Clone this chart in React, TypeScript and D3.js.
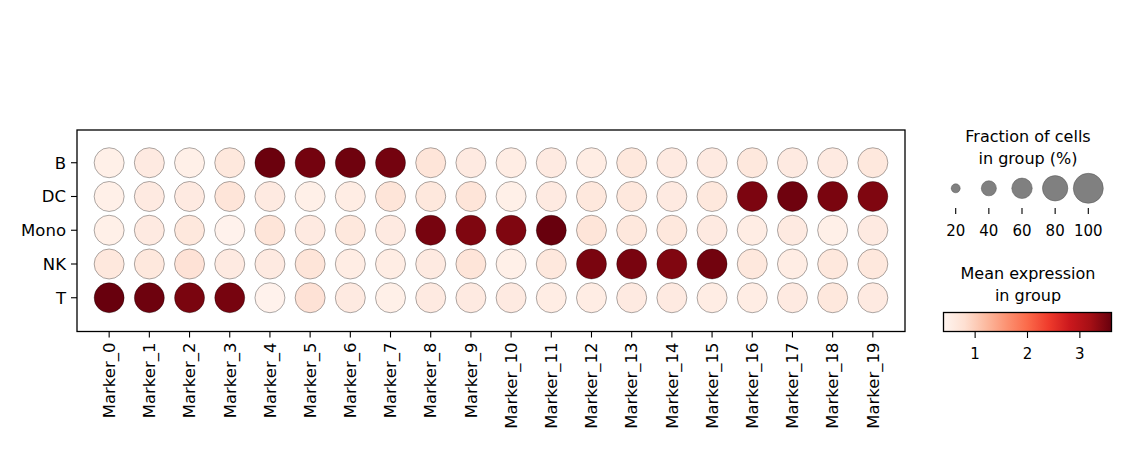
import React from "react";
import * as d3 from "d3";

const groups = ["B", "DC", "Mono", "NK", "T"];
const markers = d3.range(20).map(i => `Marker_${i}`);

// mean expression per group (rows) x marker (columns)
const exprB = [0.50, 0.60, 0.50, 0.65, 3.58, 3.52, 3.55, 3.52, 0.70, 0.60, 0.55, 0.60, 0.55, 0.65, 0.60, 0.60, 0.65, 0.60, 0.60, 0.65];
const exprDC = [0.50, 0.60, 0.60, 0.70, 0.60, 0.50, 0.55, 0.70, 0.65, 0.70, 0.50, 0.60, 0.65, 0.65, 0.60, 0.65, 3.47, 3.55, 3.48, 3.45];
const exprMono = [0.50, 0.60, 0.65, 0.45, 0.70, 0.60, 0.65, 0.60, 3.50, 3.45, 3.45, 3.60, 0.70, 0.65, 0.65, 0.60, 0.55, 0.60, 0.50, 0.60];
const exprNK = [0.65, 0.65, 0.75, 0.60, 0.60, 0.70, 0.55, 0.55, 0.60, 0.70, 0.50, 0.65, 3.48, 3.49, 3.44, 3.53, 0.65, 0.55, 0.65, 0.65];
const exprT = [3.60, 3.56, 3.48, 3.50, 0.45, 0.75, 0.60, 0.50, 0.60, 0.60, 0.60, 0.55, 0.55, 0.60, 0.60, 0.55, 0.55, 0.60, 0.65, 0.60];
const expression = [exprB, exprDC, exprMono, exprNK, exprT];

// fraction of cells expressing (all close to 100%)
const fracB = [1, 1, 1, 1, 1, 1, 1, 1, 1, 1, 1, 1, 1, 1, 1, 1, 1, 1, 1, 1];
const fracDC = [1, 1, 1, 1, 1, 1, 1, 1, 1, 1, 1, 1, 1, 1, 1, 1, 1, 1, 1, 1];
const fracMono = [1, 1, 1, 1, 1, 1, 1, 1, 1, 1, 1, 1, 1, 1, 1, 1, 1, 1, 1, 1];
const fracNK = [1, 1, 1, 1, 1, 1, 1, 1, 1, 1, 1, 1, 1, 1, 1, 1, 1, 1, 1, 1];
const fracT = [1, 1, 1, 1, 1, 1, 1, 1, 1, 1, 1, 1, 1, 1, 1, 1, 1, 1, 1, 1];
const fractions = [fracB, fracDC, fracMono, fracNK, fracT];

const sizeTicks = [20, 40, 60, 80, 100];
const colorTicks = [1, 2, 3];
const vmin = 0.396;
const vmax = 3.604;

// matplotlib "Reds" (linear segments between the ColorBrewer anchors)
const redsAnchors = ["#fff5f0", "#fee0d2", "#fcbba1", "#fc9272", "#fb6a4a", "#ef3b2c", "#cb181d", "#a50f15", "#67000d"];
const reds = d3.piecewise(d3.interpolateRgb, redsAnchors);

const FONT = "DejaVu Sans";

export default function App() {
  const frame = { left: 77, right: 905, top: 130, bottom: 331.5 };

  const x = d3.scaleLinear().domain([-0.8, 19.8]).range([frame.left, frame.right]);
  const y = d3.scaleLinear().domain([-0.97, 5]).range([frame.top, frame.bottom]);
  const color = d3.scaleSequential(reds).domain([vmin, vmax]);
  const maxR = 15;
  const r = (f: number) => maxR * Math.pow(f, 0.75);

  const sx = d3.scalePoint<number>().domain(sizeTicks).range([955.7, 1088.3]);
  const cx = d3.scaleLinear().domain([vmin, vmax]).range([943.5, 1111.5]);
  const stops = d3.range(0, 1.0001, 0.125);

  return (
    <svg width={1126} height={453} style={{ position: "absolute", left: 0, top: 0, background: "#fff" }} fontFamily={FONT}>
      <defs>
        <linearGradient id="reds" x1="0" x2="1" y1="0" y2="0">
          {stops.map(t => (
            <stop key={t} offset={t} stopColor={reds(t)} />
          ))}
        </linearGradient>
      </defs>

      {/* dots */}
      {expression.map((row, gi) =>
        row.map((v, mi) => (
          <circle
            key={`${gi}-${mi}`}
            cx={x(mi)}
            cy={y(gi)}
            r={r(fractions[gi][mi])}
            fill={color(v)}
            stroke="#000"
            strokeOpacity={0.55}
            strokeWidth={0.6}
          />
        ))
      )}

      <rect x={frame.left} y={frame.top} width={frame.right - frame.left} height={frame.bottom - frame.top}
        fill="none" stroke="#000" strokeWidth={1.3} />

      {/* y axis */}
      {groups.map((g, i) => (
        <g key={g}>
          <line x1={frame.left - 6} x2={frame.left} y1={y(i)} y2={y(i)} stroke="#000" strokeWidth={1.1} />
          <text x={frame.left - 11} y={y(i)} dy="0.35em" textAnchor="end" fontSize={16.5}>{g}</text>
        </g>
      ))}

      {/* x axis */}
      {markers.map((m, i) => (
        <g key={m}>
          <line x1={x(i)} x2={x(i)} y1={frame.bottom} y2={frame.bottom + 6} stroke="#000" strokeWidth={1.1} />
          <text transform={`translate(${x(i)},${frame.bottom + 11}) rotate(-90)`} dy="0.35em" textAnchor="end" fontSize={16.5}>{m}</text>
        </g>
      ))}

      {/* size legend */}
      <text x={1028} y={136} dy="0.35em" textAnchor="middle" fontSize={16}>Fraction of cells</text>
      <text x={1028} y={158} dy="0.35em" textAnchor="middle" fontSize={16}>in group (%)</text>
      {sizeTicks.map(t => (
        <g key={t}>
          <circle cx={sx(t)} cy={188.3} r={r(t / 100)} fill="#808080" stroke="#555" strokeWidth={0.5} />
          <line x1={sx(t)} x2={sx(t)} y1={208} y2={214} stroke="#000" strokeWidth={1.1} />
          <text x={sx(t)} y={231} dy="0.35em" textAnchor="middle" fontSize={15}>{t}</text>
        </g>
      ))}

      {/* colour legend */}
      <text x={1028} y={273} dy="0.35em" textAnchor="middle" fontSize={16}>Mean expression</text>
      <text x={1028} y={295} dy="0.35em" textAnchor="middle" fontSize={16}>in group</text>
      <rect x={cx(vmin)} y={312.5} width={cx(vmax) - cx(vmin)} height={19} fill="url(#reds)" stroke="#000" strokeWidth={1.3} />
      {colorTicks.map(t => (
        <g key={t}>
          <line x1={cx(t)} x2={cx(t)} y1={331.5} y2={338} stroke="#000" strokeWidth={1.1} />
          <text x={cx(t)} y={354} dy="0.35em" textAnchor="middle" fontSize={15}>{t}</text>
        </g>
      ))}
    </svg>
  );
}
